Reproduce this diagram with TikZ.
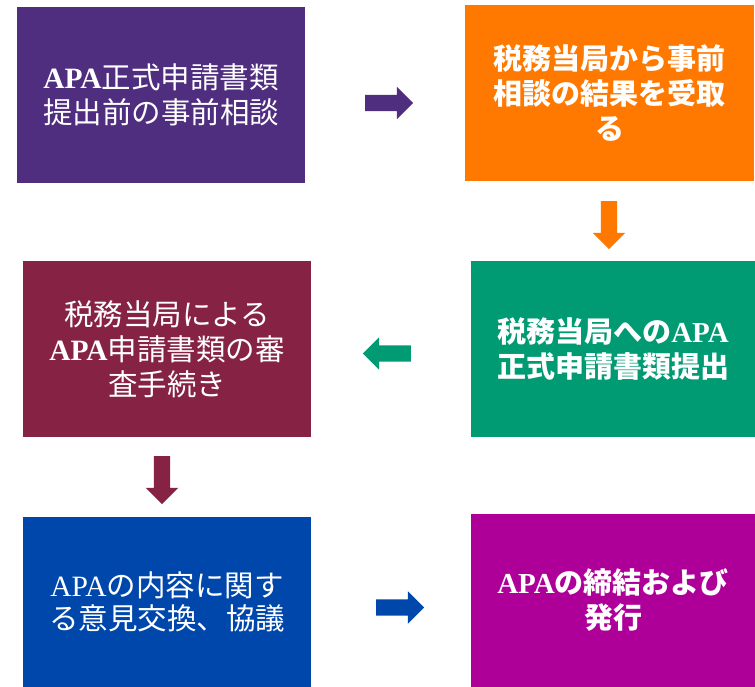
\documentclass[tikz,border=0pt]{standalone}
\usepackage{fontspec}
\setmainfont{Noto Sans CJK JP}
\newfontfamily\sr{Liberation Serif}
\usetikzlibrary{shapes.arrows}
\definecolor{cpurple}{HTML}{4F2D7F}
\definecolor{corange}{HTML}{FF7900}
\definecolor{cgreen}{HTML}{009A73}
\definecolor{cmaroon}{HTML}{862345}
\definecolor{cblue}{HTML}{0047AB}
\definecolor{cmagenta}{HTML}{AE0099}
\tikzset{
  box/.style={rectangle, inner sep=0pt, text=white, align=center,
    font=\fontsize{29.5}{35}\selectfont},
  boldbox/.style={box, font=\fontsize{29}{35}\selectfont\bfseries},
  arr/.style={single arrow, draw=none, inner sep=8pt, minimum height=48pt,
    single arrow head extend=8pt, single arrow tip angle=90, single arrow head indent=0pt}
}
\begin{document}
\begin{tikzpicture}[x=1pt,y=-1pt]
\useasboundingbox (0,0) rectangle (755,687);
\node[box, fill=cpurple, minimum width=288pt, minimum height=176pt] (b1) at (161,95)
  {{\sr\bfseries APA}正式申請書類\\提出前の事前相談};
\node[boldbox, fill=corange, minimum width=289pt, minimum height=176pt] (b2) at (609.5,93)
  {税務当局から事前\\相談の結果を受取\\る};
\node[boldbox, fill=cgreen, minimum width=284pt, minimum height=176pt] (b4) at (613,349)
  {税務当局への{\sr APA}\\正式申請書類提出};
\node[box, fill=cmaroon, minimum width=288pt, minimum height=176pt] (b3) at (167,349)
  {税務当局による\\{\sr\bfseries APA}申請書類の審\\査手続き};
\node[box, fill=cblue, minimum width=288pt, minimum height=170pt] (b5) at (167,602)
  {\raisebox{-5pt}{\shortstack{{\sr APA}の内容に関す\\[3pt]る意見交換、協議}}};
\node[boldbox, fill=cmagenta, minimum width=284pt, minimum height=173pt] (b6) at (613,600.5)
  {{\sr APA}の締結および\\発行};
\node[arr, fill=cpurple] (a1) at (385,103) {};
\node[arr, fill=corange, shape border rotate=270] (a2) at (609,221) {};
\node[arr, fill=cgreen, shape border rotate=180] (a3) at (391,353.5) {};
\node[arr, fill=cmaroon, shape border rotate=270] (a4) at (162,476) {};
\node[arr, fill=cblue] (a5) at (396,607.5) {};
\end{tikzpicture}
\end{document}
